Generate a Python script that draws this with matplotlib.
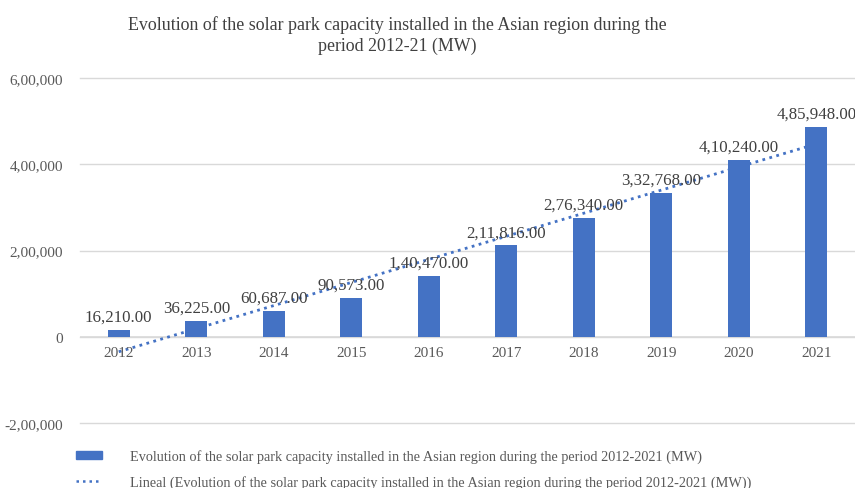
import numpy as np
import matplotlib
matplotlib.use("Agg")
import matplotlib.pyplot as plt
from matplotlib.patches import Patch
from matplotlib.lines import Line2D

years = ["2012", "2013", "2014", "2015", "2016", "2017", "2018", "2019", "2020", "2021"]
capacity_mw = [16210, 36225, 60687, 90573, 140470, 211816, 276340, 332768, 410240, 485948]
y_ticks = [-200000, 0, 200000, 400000, 600000]

series_name = "Evolution of the solar park capacity installed in the Asian region during the period 2012-2021 (MW)"
trend_name = "Lineal (" + series_name + ")"
title = ("Evolution of the solar park capacity installed in the Asian region during the\n"
         "period 2012-21 (MW)")

BLUE = "#4472C4"
TXT = "#595959"
LBL = "#404040"


def indian(n, decimals=0):
    neg = n < 0
    n = abs(n)
    s = f"{n:.{decimals}f}"
    if "." in s:
        whole, frac = s.split(".")
    else:
        whole, frac = s, None
    if len(whole) > 3:
        head, tail = whole[:-3], whole[-3:]
        groups = []
        while len(head) > 2:
            groups.insert(0, head[-2:])
            head = head[:-2]
        if head:
            groups.insert(0, head)
        whole = ",".join(groups + [tail])
    out = whole + ("." + frac if frac is not None else "")
    return ("-" if neg else "") + out


plt.rcParams["font.family"] = ["Liberation Serif", "DejaVu Serif"]

fig = plt.figure(figsize=(8.55, 4.89), dpi=100)
ax = fig.add_axes([80 / 855, 65 / 489, 775 / 855, 345 / 489])

x = np.arange(len(years))
ax.bar(x, capacity_mw, width=0.28, color=BLUE, zorder=3)

# linear trend line
coef = np.polyfit(x + 1, capacity_mw, 1)
trend = np.polyval(coef, x + 1)
ax.plot(x, trend, linestyle=(0, (1, 1.6)), color=BLUE, linewidth=2.0, zorder=4)

for xi, v in zip(x, capacity_mw):
    ax.text(xi, v + 12000, indian(v, 2), ha="center", va="bottom",
            fontsize=12.2, color=LBL, zorder=5)

ax.set_xlim(-0.5, len(years) - 0.5)
ax.set_ylim(-200000, 600000)
ax.set_yticks(y_ticks)
ax.set_yticklabels([indian(t) for t in y_ticks], fontsize=11, color=TXT)
ax.tick_params(axis="y", length=0, pad=12)
ax.grid(axis="y", color="#D9D9D9", linewidth=1, zorder=0)
for gl in ax.get_ygridlines():
    gl.set_clip_on(False)
for s in ax.spines.values():
    s.set_visible(False)
ax.axhline(0, color="#D9D9D9", linewidth=1.2, zorder=2)

ax.set_xticks([])
for xi, yr in zip(x, years):
    ax.text(xi, -22000, yr, ha="center", va="top", fontsize=11, color=TXT, zorder=5)

fig.text(0.465, 0.967, title, ha="center", va="top", fontsize=12.9,
         color=LBL, linespacing=1.3)

handles = [Patch(facecolor=BLUE, edgecolor=BLUE),
           Line2D([0], [0], color=BLUE, linestyle=(0, (1, 1.6)), linewidth=1.8)]
fig.legend(handles, [series_name, trend_name], loc="lower left",
           bbox_to_anchor=(63 / 855, -0.029), frameon=False, fontsize=10.3,
           labelcolor=TXT, handlelength=1.85, handleheight=0.55,
           handletextpad=1.9, labelspacing=0.85)

fig.savefig("out.png", dpi=100, facecolor="white")
